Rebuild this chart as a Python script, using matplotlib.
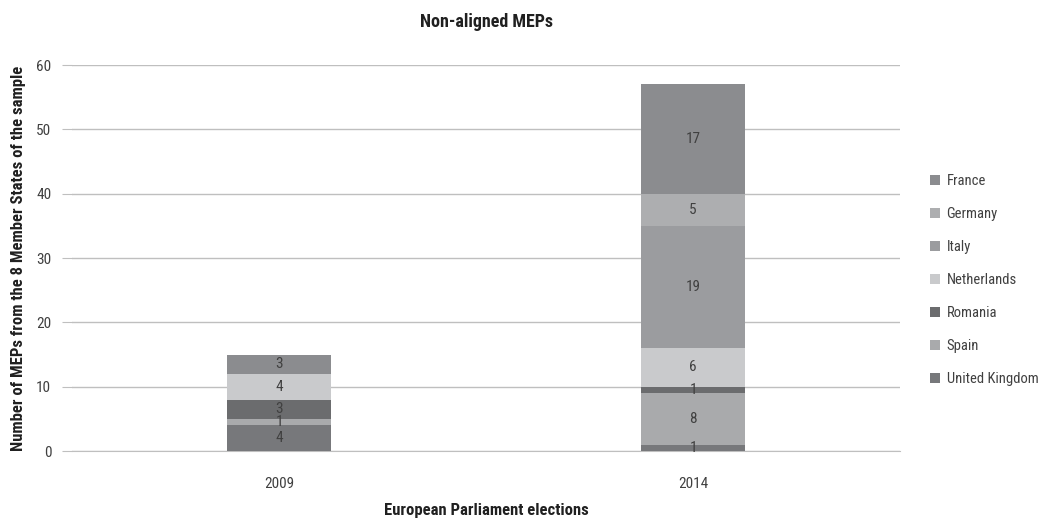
import matplotlib
matplotlib.use("Agg")
import matplotlib.pyplot as plt
from matplotlib import font_manager as fm
from matplotlib.patches import Patch

# prefer a narrow sans face if one is installed
installed = {f.name for f in fm.fontManager.ttflist}
narrow = [f.name for f in fm.fontManager.ttflist
          if 'Condensed' in f.name or 'Narrow' in f.name or f.stretch in ('condensed', 'semi-condensed')]
family = 'DejaVu Sans'
for cand in ['Roboto Condensed', 'Liberation Sans Narrow', 'Noto Sans Condensed',
             'Open Sans Condensed', 'DejaVu Sans Condensed'] + sorted(set(narrow)):
    if cand in installed:
        family = cand
        break
plt.rcParams['font.family'] = [family, 'DejaVu Sans']

years = ['2009', '2014']
countries = ['France', 'Germany', 'Italy', 'Netherlands', 'Romania', 'Spain', 'United Kingdom']
meps = {
    'France': [3, 17],
    'Germany': [0, 5],
    'Italy': [0, 19],
    'Netherlands': [4, 6],
    'Romania': [3, 1],
    'Spain': [1, 8],
    'United Kingdom': [4, 1],
}
colors = {
    'France': '#8b8c8f',
    'Germany': '#adaeb0',
    'Italy': '#9b9c9f',
    'Netherlands': '#c9cacc',
    'Romania': '#6b6c6e',
    'Spain': '#a9aaac',
    'United Kingdom': '#77787b',
}

fig = plt.figure(figsize=(10.41, 5.19), dpi=100)
ax = fig.add_axes([0.0692, 0.131, 0.7954, 0.7437])

x = list(range(len(years)))
bottom = [0] * len(years)
# stack from the last legend entry upward
for c in reversed(countries):
    vals = meps[c]
    ax.bar(x, vals, width=0.25, bottom=bottom, color=colors[c], zorder=3)
    for i, v in enumerate(vals):
        if v > 0:
            ax.text(x[i], bottom[i] + v / 2, str(v), ha='center', va='center',
                    fontsize=11, color='#404040', zorder=4)
    bottom = [b + v for b, v in zip(bottom, vals)]

ax.set_xlim(-0.5, 1.5)
ax.set_ylim(0, 60)
ax.set_yticks(range(0, 61, 10))
ax.set_xticks(x)
ax.set_xticklabels(years)
ax.yaxis.grid(True, color='#bfbfbf', linewidth=1, zorder=0)
for s in ['top', 'right', 'left']:
    ax.spines[s].set_visible(False)
ax.spines['bottom'].set_color('#bfbfbf')
ax.tick_params(axis='y', length=7, color='#bfbfbf', labelsize=11, labelcolor='#404040', pad=8)
ax.tick_params(axis='x', length=0, labelsize=11, labelcolor='#404040', pad=19)

ax.set_title('Non-aligned MEPs', fontsize=13, fontweight='bold', color='#202020',
             va='center', y=1.0907)
ax.set_xlabel('European Parliament elections', fontsize=12, fontweight='bold', color='#202020')
ax.xaxis.set_label_coords(0.5, -0.153)
ax.xaxis.label.set_va('center')
ax.set_ylabel('Number of MEPs from the 8 Member States of the sample', fontsize=12,
              fontweight='bold', color='#202020')
ax.yaxis.set_label_coords(-0.065, 0.5)
ax.yaxis.label.set_va('center')

handles = [Patch(facecolor=colors[c], label=c) for c in countries]
ax.legend(handles=handles, loc='center left', bbox_to_anchor=(1.02, 0.443), frameon=False,
          fontsize=10.5, labelspacing=1.3, handlelength=0.7, handleheight=0.7,
          handletextpad=0.45, labelcolor='#404040')

fig.savefig('out.png', dpi=100)
